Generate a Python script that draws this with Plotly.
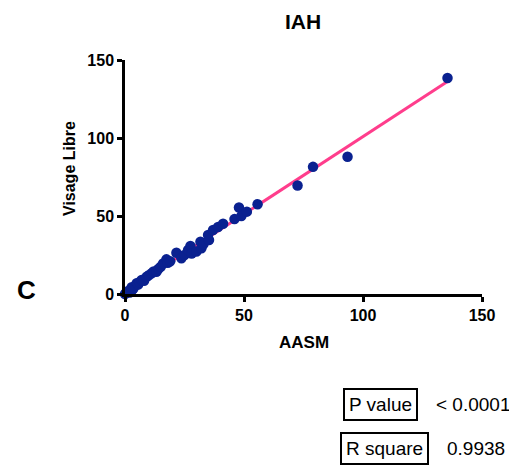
import numpy as np
import plotly.graph_objects as go

# Data (AASM vs Visage Libre, IAH)
aasm = [0, 0.7, 1.5, 2, 2.8, 3, 3.5, 4.9, 5.5, 6, 7, 8, 9.1, 10, 11.2, 12, 13.2,
        14, 15, 16, 17.4, 18, 19, 21.6, 23.7, 25, 26.5, 27.5, 28, 30, 31.7, 32.1,
        33, 34.9, 35.3, 37, 39.1, 41.2, 46, 47.9, 48.9, 51.2, 55.7, 72.5, 79,
        93.5, 135.5]
visage = [0, 1.5, 2, 1, 4.3, 2.5, 3.5, 6.9, 6, 7.5, 9, 8.5, 11.1, 12, 13.3, 14.5,
          14.3, 16, 17.5, 19.6, 22.2, 20, 21, 26.4, 22.9, 25, 28.2, 30.8, 26,
          27.2, 33.5, 29.3, 32, 37.8, 34.6, 41, 43, 45, 48, 55.5, 50, 52.8, 57.5,
          69.5, 81.5, 88, 138.5]

title_text = "IAH"
x_title = "AASM"
y_title = "Visage Libre"
tick_vals = [0, 50, 100, 150]
p_value_text = "< 0.0001"
r_square_text = "0.9938"

slope, intercept = np.polyfit(aasm, visage, 1)
line_x = [min(aasm), max(aasm)]
line_y = [slope * v + intercept for v in line_x]

fig = go.Figure()
fig.add_trace(go.Scatter(x=line_x, y=line_y, mode="lines",
                         line=dict(color="#ff3d8c", width=3),
                         cliponaxis=False, hoverinfo="skip"))
fig.add_trace(go.Scatter(x=aasm, y=visage, mode="markers",
                         marker=dict(color="#0a2190", size=10.5),
                         cliponaxis=False))

axis_common = dict(
    range=[0, 150], tickvals=tick_vals, showgrid=False, zeroline=False,
    showline=True, linecolor="black", linewidth=2.5,
    ticks="outside", ticklen=5, tickwidth=2.5, tickcolor="black",
    tickfont=dict(family="Liberation Sans, Arial", size=16, color="black", weight="bold"),
    fixedrange=True,
)
fig.update_xaxes(**axis_common)
fig.update_yaxes(**axis_common)

# page body has an 8px margin: figure origin sits at (8, 8) in the window
OFF = 8
W, H = 517 - OFF, 472 - OFF
L, R = 125 - OFF, 35
T, B = 60 - OFF, 178
pw = W - L - R
ph = H - T - B

def px(x):
    return (x - OFF - L) / pw

def py(y):
    return (H - B - (y - OFF)) / ph

bold = dict(family="Liberation Sans, Arial", color="black", weight="bold")
reg = dict(family="Liberation Sans, Arial", color="black", size=19)

annotations = [
    dict(text=title_text, x=px(303), y=py(22), font=dict(size=21, **bold)),
    dict(text=x_title, x=px(304), y=py(342), font=dict(size=17, **bold)),
    dict(text=y_title, x=px(69), y=py(169), textangle=-90, font=dict(size=16, **bold)),
    dict(text="C", x=px(26), y=py(290), font=dict(size=26, **bold)),
    dict(text="P value", x=px(380), y=py(404.5), font=reg,
         bordercolor="black", borderwidth=2, borderpad=4),
    dict(text=p_value_text, x=px(434), y=py(404.5), xanchor="left", font=reg),
    dict(text="R square", x=px(384), y=py(448), font=reg,
         bordercolor="black", borderwidth=2, borderpad=4),
    dict(text=r_square_text, x=px(445), y=py(448), xanchor="left", font=reg),
]
for a in annotations:
    a.setdefault("xanchor", "center")
    a.update(xref="paper", yref="paper", yanchor="middle", showarrow=False)

fig.update_layout(
    width=W, height=H, margin=dict(l=L, r=R, t=T, b=B),
    plot_bgcolor="white", paper_bgcolor="white", showlegend=False,
    annotations=annotations,
)

fig.write_html("out.html")
